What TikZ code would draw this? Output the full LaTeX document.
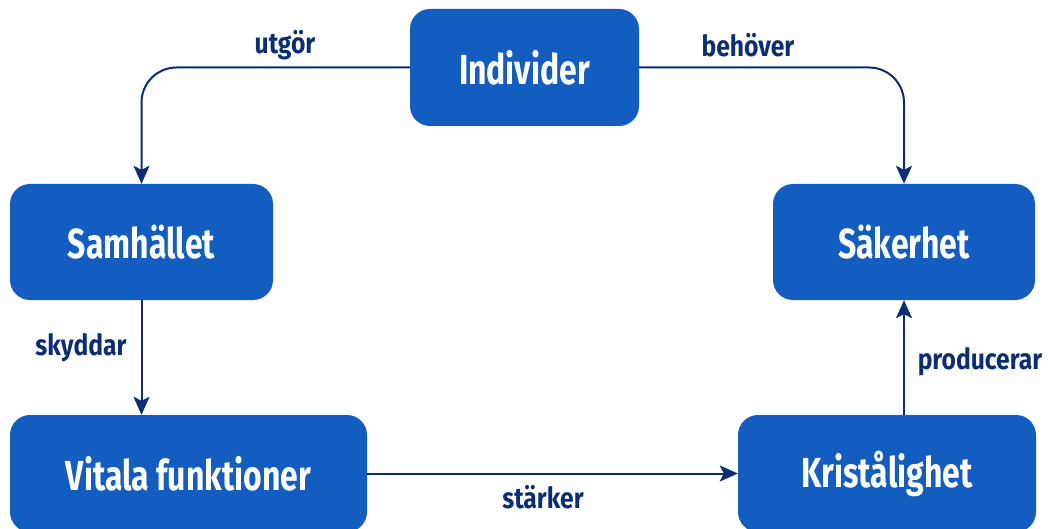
\documentclass[tikz,border=0pt]{standalone}
\usepackage{fontspec}
\setmainfont{Fira Sans}[FakeStretch=0.76]
\newfontfamily\lblfont{Fira Sans}[FakeStretch=0.85]
\usetikzlibrary{arrows.meta}
\definecolor{boxblue}{HTML}{135CC0}
\definecolor{navy}{HTML}{0B2E73}
\tikzset{
  box/.style={draw=none, fill=boxblue, rounded corners=20pt, text=white,
    font=\fontsize{42}{46}\selectfont\bfseries, inner sep=0pt},
  conn/.style={draw=navy, line width=2pt, -{Stealth[length=18pt,width=16pt,inset=4pt]}},
  lbl/.style={text=navy, font=\lblfont\fontsize{29}{32}\selectfont\bfseries, inner sep=0pt}
}
\begin{document}
\begin{tikzpicture}[x=1pt,y=-1pt]
\useasboundingbox (0,0) rectangle (1048,529);
\node[box, minimum width=229pt, minimum height=117pt] (ind) at (524.5,67.5) {Individer};
\node[box, minimum width=263pt, minimum height=116pt] (sam) at (141.5,242) {Samhället};
\node[box, minimum width=262pt, minimum height=116pt] (sak) at (904,242) {Säkerhet};
\node[box, minimum width=357pt, minimum height=117pt] (vit) at (188.5,473.5) {Vitala funktioner};
\node[box, minimum width=298pt, minimum height=117pt] (kri) at (887,473.5) {Kristålighet};
\draw[conn, rounded corners=35pt] (ind.west) -| (sam.north);
\draw[conn, rounded corners=35pt] (ind.east) -| (sak.north);
\draw[conn] (sam.south) -- (vit.north -| sam.south);
\draw[conn] (vit.east) -- (kri.west);
\draw[conn] (kri.north -| sak.south) -- (sak.south);
\node[lbl] (l1) at (285,45) {utgör};
\node[lbl] (l2) at (748,45) {behöver};
\node[lbl] (l3) at (81,348) {skyddar};
\node[lbl] (l4) at (543,497) {stärker};
\node[lbl] (l5) at (980,362) {producerar};
\end{tikzpicture}
\end{document}
